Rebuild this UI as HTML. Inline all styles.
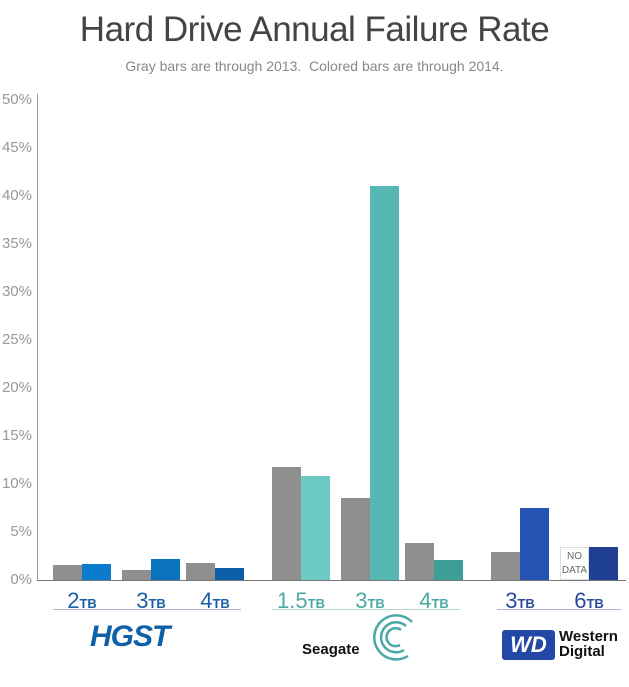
<!DOCTYPE html><html><head><style>
body{margin:0;background:#fff;width:629px;height:687px;overflow:hidden;position:relative;font-family:"Liberation Sans",sans-serif}
.a{position:absolute}
.t{font-size:35px;color:#444;left:0;width:629px;text-align:center;top:10px;letter-spacing:-0.5px}
.s{font-size:14px;color:#888;left:0;width:629px;text-align:center;top:58px}
.y{font-size:15px;color:#999;width:32px;text-align:right;left:0}
.b{position:absolute}
.lb{position:absolute;top:588px;font-size:22px;text-align:center;width:60px}
.lb small{font-size:13px;font-weight:bold}
</style></head><body>
<div class="a t">Hard Drive Annual Failure Rate</div>
<div class="a s">Gray bars are through 2013.&nbsp; Colored bars are through 2014.</div>
<div class="a" style="left:37px;top:94px;width:1px;height:486px;background:#999"></div>
<div class="a" style="left:37px;top:580px;width:589px;height:1px;background:#777"></div>
<div class="a y" style="top:91px">50%</div>
<div class="a y" style="top:139px">45%</div>
<div class="a y" style="top:187px">40%</div>
<div class="a y" style="top:235px">35%</div>
<div class="a y" style="top:283px">30%</div>
<div class="a y" style="top:331px">25%</div>
<div class="a y" style="top:379px">20%</div>
<div class="a y" style="top:427px">15%</div>
<div class="a y" style="top:475px">10%</div>
<div class="a y" style="top:523px">5%</div>
<div class="a y" style="top:571px">0%</div>

<div class="b" style="left:53px;top:565px;width:29px;height:15px;background:#8f8f8f"></div>
<div class="b" style="left:82px;top:564px;width:29px;height:16px;background:#0a7ccb"></div>
<div class="b" style="left:122px;top:570px;width:29px;height:10px;background:#8f8f8f"></div>
<div class="b" style="left:151px;top:559px;width:29px;height:21px;background:#0a73c0"></div>
<div class="b" style="left:186px;top:563px;width:29px;height:17px;background:#8f8f8f"></div>
<div class="b" style="left:215px;top:568px;width:29px;height:12px;background:#0a5fa6"></div>

<div class="b" style="left:272px;top:467px;width:29px;height:113px;background:#8f8f8f"></div>
<div class="b" style="left:301px;top:476px;width:29px;height:104px;background:#6cc9c4"></div>
<div class="b" style="left:341px;top:498px;width:29px;height:82px;background:#8f8f8f"></div>
<div class="b" style="left:370px;top:186px;width:29px;height:394px;background:#55b8b3"></div>
<div class="b" style="left:405px;top:543px;width:29px;height:37px;background:#8f8f8f"></div>
<div class="b" style="left:434px;top:560px;width:29px;height:20px;background:#3d9d97"></div>

<div class="b" style="left:491px;top:552px;width:29px;height:28px;background:#8f8f8f"></div>
<div class="b" style="left:520px;top:508px;width:29px;height:72px;background:#2553b3"></div>
<div class="b" style="left:560px;top:547px;border:1px solid #ddd;background:#fff;font-size:10px;color:#666;line-height:14px;text-align:center;padding-top:2px;box-sizing:border-box;width:29px;height:33px">NO<br>DATA</div>
<div class="b" style="left:589px;top:547px;width:29px;height:33px;background:#1e3f94"></div>

<div class="lb" style="left:52px;color:#1a5ea8">2<small>TB</small></div>
<div class="lb" style="left:121px;color:#1a5ea8">3<small>TB</small></div>
<div class="lb" style="left:185px;color:#1a5ea8">4<small>TB</small></div>
<div class="lb" style="left:271px;color:#4aa9a4">1.5<small>TB</small></div>
<div class="lb" style="left:340px;color:#4aa9a4">3<small>TB</small></div>
<div class="lb" style="left:404px;color:#4aa9a4">4<small>TB</small></div>
<div class="lb" style="left:490px;color:#2a4a9a">3<small>TB</small></div>
<div class="lb" style="left:559px;color:#2a4a9a">6<small>TB</small></div>
<div class="a" style="left:53px;top:609px;width:188px;height:1px;background:#aab7cc"></div>
<div class="a" style="left:272px;top:609px;width:188px;height:1px;background:#b7d6d4"></div>
<div class="a" style="left:497px;top:609px;width:124px;height:1px;background:#aab7cc"></div>

<div class="a" style="left:90px;top:620px;font-size:30px;font-weight:bold;font-style:italic;color:#1060a8;letter-spacing:-1px">HGST</div>
<div class="a" style="left:302px;top:641px;font-size:15px;font-weight:bold;color:#111">Seagate</div>
<svg class="a" style="left:368px;top:612px" width="50" height="50" viewBox="0 0 50 50" fill="none" stroke="#4aa9a4" stroke-width="2.5">
<path d="M40 44 A22 22 0 1 1 44 10"/><path d="M36 38 A15 15 0 1 1 38 14"/><path d="M32 33 A9 9 0 1 1 33 18"/></svg>
<div class="a" style="left:502px;top:630px;width:53px;height:30px;background:#2448a5;border-radius:3px;color:#fff;font-weight:bold;font-style:italic;font-size:22px;text-align:center;line-height:30px">WD</div>
<div class="a" style="left:559px;top:629px;font-size:15px;font-weight:bold;color:#111;line-height:15px">Western<br>Digital</div>
</body></html>
